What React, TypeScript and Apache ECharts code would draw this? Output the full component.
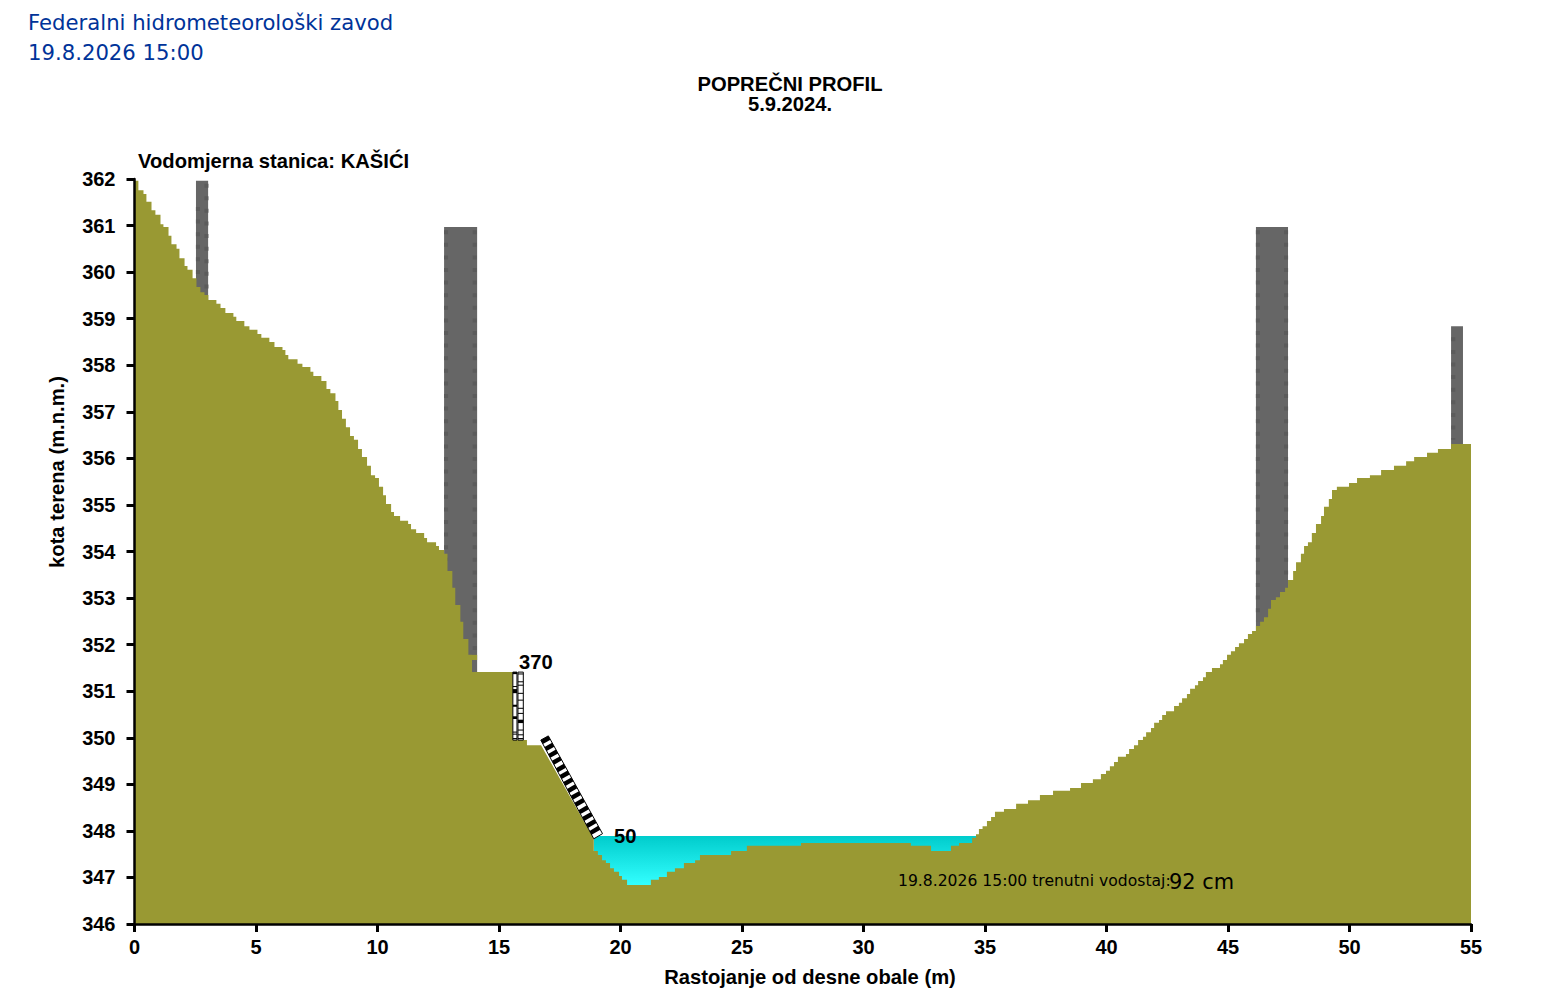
import React, { useEffect, useRef } from "react";
import * as echarts from "echarts";

type Pt = [number, number];

// Terrain: each pair is [distance m, elevation m] and the level holds until the next pair.
const leftBank: Pt[] = [
  [0, 361.96], [0.16, 361.76], [0.37, 361.68], [0.49, 361.51], [0.7, 361.33], [0.86, 361.23], [1.07, 361.03],
  [1.19, 360.97], [1.4, 360.78], [1.52, 360.6], [1.73, 360.5], [1.85, 360.3], [2.06, 360.13], [2.18, 360.05],
  [2.39, 359.87], [2.55, 359.68], [2.71, 359.57], [2.88, 359.51], [3.04, 359.4], [3.37, 359.32], [3.54, 359.23],
  [3.74, 359.12], [4.07, 359.04], [4.19, 358.95], [4.52, 358.84], [4.73, 358.76], [5.06, 358.67], [5.22, 358.59],
  [5.55, 358.5], [5.76, 358.39], [6.09, 358.33], [6.21, 358.22], [6.33, 358.13], [6.71, 358.03], [6.91, 357.96],
  [7.24, 357.86], [7.36, 357.77], [7.69, 357.66], [7.9, 357.49], [8.06, 357.4], [8.27, 357.23], [8.39, 357.04],
  [8.54, 356.85], [8.7, 356.67], [8.87, 356.48], [9.03, 356.4], [9.2, 356.2], [9.36, 356.03], [9.57, 355.84],
  [9.73, 355.64], [9.9, 355.58], [10.06, 355.39], [10.23, 355.21], [10.35, 355.02], [10.56, 354.85], [10.68, 354.76],
  [10.93, 354.66], [11.26, 354.59], [11.38, 354.48], [11.59, 354.4], [11.92, 354.29], [12.04, 354.2], [12.41, 354.12],
  [12.53, 354.03], [12.74, 353.95], [12.88, 353.58], [13.08, 353.22], [13.2, 352.85], [13.41, 352.49], [13.53, 352.12],
  [13.74, 351.78], [13.89, 351.41], [15.57, 349.95], [16.15, 349.84], [16.73, 349.84],
];
const slopeEnd: Pt = [18.9, 347.83];
const riverBed: Pt[] = [
  [18.9, 347.57], [19.07, 347.48], [19.24, 347.37], [19.4, 347.31], [19.57, 347.2], [19.73, 347.12], [19.94, 347.03],
  [20.06, 346.95], [20.27, 346.84], [21.25, 346.95], [21.58, 347.01], [21.91, 347.12], [22.24, 347.2], [22.61, 347.31],
  [23.07, 347.37], [23.27, 347.48], [24.55, 347.57], [25.2, 347.68], [27.43, 347.74], [31.95, 347.68], [32.78, 347.57],
  [33.6, 347.68], [33.93, 347.74], [34.47, 347.85], [34.63, 347.93], [34.75, 348.04], [34.9, 348.1], [35.08, 348.21],
  [35.25, 348.3], [35.41, 348.41],
];
const rightBank: Pt[] = [
  [35.78, 348.47], [36.28, 348.58], [36.77, 348.66], [37.26, 348.77], [37.8, 348.86], [38.5, 348.92], [38.95, 349.03],
  [39.44, 349.11], [39.77, 349.22], [39.98, 349.29], [40.14, 349.39], [40.31, 349.48], [40.47, 349.59], [40.8, 349.65],
  [40.93, 349.76], [41.13, 349.84], [41.3, 349.95], [41.5, 350.02], [41.63, 350.12], [41.83, 350.21], [41.96, 350.32],
  [42.16, 350.38], [42.29, 350.49], [42.45, 350.57], [42.78, 350.68], [42.98, 350.75], [43.11, 350.85], [43.31, 350.94],
  [43.44, 351.05], [43.64, 351.13], [43.77, 351.22], [43.97, 351.3], [44.09, 351.41], [44.34, 351.5], [44.67, 351.58],
  [44.79, 351.67], [44.96, 351.78], [45.12, 351.86], [45.29, 351.95], [45.45, 352.03], [45.66, 352.12], [45.82, 352.23],
  [45.99, 352.29], [46.15, 352.4], [46.32, 352.49], [46.48, 352.59], [46.65, 352.77], [46.77, 352.96], [46.97, 353.02],
  [47.14, 353.13], [47.35, 353.22], [47.47, 353.39], [47.68, 353.58], [47.8, 353.77], [48.0, 353.95], [48.13, 354.12],
  [48.29, 354.2], [48.45, 354.4], [48.62, 354.59], [48.83, 354.76], [48.95, 354.96], [49.15, 355.13], [49.28, 355.32],
  [49.48, 355.39], [49.98, 355.47], [50.31, 355.58], [50.84, 355.64], [51.3, 355.75], [51.83, 355.84], [52.33, 355.94],
  [52.66, 356.03], [53.19, 356.12], [53.64, 356.2], [54.18, 356.31], [55, 356.31],
];

// Water level
const waterLevel = 347.89;
const waterFrom = 18.9;
const waterTo = 34.9;

// Walls: [from m, to m, top, bottom]
const walls: number[][] = [
  [2.53, 3.03, 361.96, 359.3],
  [12.74, 14.1, 360.97, 351.41],
  [46.15, 47.47, 360.97, 352.2],
  [54.18, 54.67, 358.84, 356.2],
];
// Darker flecks along the wall edges: [distance m, top, bottom]
const wallFlecks: number[][] = [
  [2.96, 361.9, 359.6], [2.61, 361.4, 359.9],
  [12.82, 360.9, 353.8], [14.0, 360.9, 351.8],
  [46.23, 360.9, 352.5], [47.39, 360.9, 353.4],
  [54.27, 358.6, 356.4],
];
const wallStrip: number[] = [13.89, 14.1, 351.78, 351.67];

// Staff gauges
const staffTop = 351.41;
const staffBottom = 349.95;
const staffLeftCol: Pt = [15.57, 15.74];
const staffRightCol: Pt = [15.78, 16.0];
const staffLeftMarks: Pt[] = [[0, 0.03], [0.205, 0.22], [0.25, 0.31], [0.48, 0.51], [0.65, 0.69], [0.875, 0.89], [0.905, 0.92], [0.97, 0.985]];
const staffRightMarks: Pt[] = [[0.02, 0.035], [0.135, 0.15], [0.185, 0.2], [0.305, 0.32], [0.405, 0.42], [0.525, 0.54], [0.6, 0.615], [0.7, 0.75], [0.845, 0.86], [0.915, 0.93], [0.97, 0.985]];
const rampCorners: Pt[] = [[16.72, 349.95], [17.03, 350.04], [19.26, 347.94], [18.9, 347.83]];
const rampBands: Pt[] = [
  [0, 0.04], [0.07, 0.11], [0.14, 0.18], [0.21, 0.25], [0.285, 0.325], [0.355, 0.395], [0.425, 0.465],
  [0.495, 0.535], [0.565, 0.605], [0.635, 0.675], [0.71, 0.75], [0.78, 0.82], [0.85, 0.89], [0.92, 0.96],
];

const xTickValues = [0, 5, 10, 15, 20, 25, 30, 35, 40, 45, 50, 55];
const yTickValues = [346, 347, 348, 349, 350, 351, 352, 353, 354, 355, 356, 357, 358, 359, 360, 361, 362];

const terrainColor = "#999933";
const wallColor = "#666666";
const fleckColor = "#5b5b5b";
const SANS = "'Liberation Sans', Arial, sans-serif";
const DEJA = "'DejaVu Sans', Verdana, sans-serif";

function expand(steps: Pt[]): Pt[] {
  const out: Pt[] = [];
  steps.forEach((p, i) => {
    out.push(p);
    if (i < steps.length - 1) out.push([steps[i + 1][0], p[1]]);
  });
  return out;
}

const lerp = (a: Pt, b: Pt, t: number): Pt => [a[0] + (b[0] - a[0]) * t, a[1] + (b[1] - a[1]) * t];

export default function App() {
  const ref = useRef<HTMLDivElement>(null);
  useEffect(() => {
    const chart = echarts.init(ref.current!, undefined, { renderer: "svg" });
    const bed = riverBed.concat([[rightBank[0][0], riverBed[riverBed.length - 1][1]]]);
    const terrain: Pt[] = [
      ...expand(leftBank),
      slopeEnd,
      ...expand(bed),
      ...expand(rightBank),
    ];
    const rect = (api: any, x0: number, x1: number, y0: number, y1: number, style: any) => {
      const a = api.coord([x0, y0]);
      const b = api.coord([x1, y1]);
      return {
        type: "rect",
        shape: { x: a[0], y: a[1], width: b[0] - a[0], height: b[1] - a[1] },
        style,
      };
    };
    const textEl = (text: string, x: number, y: number, font: any, extra: any = {}) => ({
      type: "text",
      x,
      y,
      z: 50,
      silent: true,
      style: { text, textVerticalAlign: "middle", fill: "#000", ...font },
      ...extra,
    });
    const bold = { fontFamily: SANS, fontWeight: "bold", fontSize: 20.2 };
    const axisBase = {
      type: "value",
      z: 20,
      splitLine: { show: false },
      axisLine: { show: true, onZero: false, lineStyle: { color: "#000", width: 2.5 } },
      axisTick: { show: true, length: 8, lineStyle: { color: "#000", width: 3 } },
    };
    chart.setOption({
      animation: false,
      backgroundColor: "#fff",
      grid: { left: 134.5, right: 79, top: 179, bottom: 76, containLabel: false },
      xAxis: {
        ...axisBase,
        min: xTickValues[0],
        max: xTickValues[xTickValues.length - 1],
        interval: 5,
        axisLabel: { show: true, color: "#000", fontFamily: SANS, fontWeight: "bold", fontSize: 20, margin: 13 },
      },
      yAxis: {
        ...axisBase,
        min: yTickValues[0],
        max: yTickValues[yTickValues.length - 1],
        interval: 1,
        axisLabel: { show: true, color: "#000", fontFamily: SANS, fontWeight: "bold", fontSize: 20, margin: 19 },
      },
      series: [
        {
          type: "custom",
          name: "walls",
          z: 1,
          silent: true,
          clip: false,
          data: walls,
          encode: { x: [0, 1], y: [2, 3] },
          renderItem: (_: any, api: any) =>
            rect(api, api.value(0), api.value(1), api.value(2), api.value(3), { fill: wallColor }),
        },
        ...wallFlecks.map((f) => ({
          type: "line",
          z: 2,
          silent: true,
          symbol: "none",
          data: [[f[0], f[1]], [f[0], f[2]]],
          lineStyle: { color: fleckColor, width: 4, type: [4, 8.6] },
        })),
        {
          type: "line",
          name: "voda",
          z: 3,
          silent: true,
          symbol: "none",
          data: [[waterFrom, waterLevel], [waterTo, waterLevel]],
          lineStyle: { width: 0 },
          areaStyle: {
            origin: "start",
            opacity: 1,
            color: new echarts.graphic.LinearGradient(0, 0, 0, 1, [
              { offset: 0, color: "#00cccc" },
              { offset: 0.557, color: "#33ffff" },
              { offset: 1, color: "#33ffff" },
            ]),
          },
        },
        {
          type: "line",
          name: "teren",
          z: 4,
          silent: true,
          symbol: "none",
          data: terrain,
          lineStyle: { width: 0 },
          areaStyle: { origin: "start", opacity: 1, color: terrainColor },
        },
        {
          type: "custom",
          name: "strip",
          z: 5,
          silent: true,
          clip: false,
          data: [wallStrip],
          encode: { x: [0, 1], y: [2, 3] },
          renderItem: (_: any, api: any) =>
            rect(api, api.value(0), api.value(1), api.value(2), api.value(3), { fill: terrainColor }),
        },
        {
          type: "custom",
          name: "letva",
          z: 6,
          silent: true,
          clip: false,
          data: [[staffLeftCol[0], staffTop], [staffRightCol[1], staffBottom]],
          renderItem: (p: any, api: any) => {
            if (p.dataIndex !== 0) return { type: "group", children: [] };
            const column = (col: Pt, marks: Pt[]) => [
              rect(api, col[0], col[1], staffTop, staffBottom, { fill: "#fff", stroke: "#000", lineWidth: 1 }),
              ...marks.map((m) =>
                rect(
                  api,
                  col[0],
                  col[1],
                  staffTop + (staffBottom - staffTop) * m[0],
                  staffTop + (staffBottom - staffTop) * m[1],
                  { fill: "#000" }
                )
              ),
            ];
            return {
              type: "group",
              children: [...column(staffLeftCol, staffLeftMarks), ...column(staffRightCol, staffRightMarks)],
            };
          },
        },
        {
          type: "custom",
          name: "kosa letva",
          z: 6,
          silent: true,
          clip: false,
          data: rampCorners,
          renderItem: (p: any, api: any) => {
            if (p.dataIndex !== 0) return { type: "group", children: [] };
            const [a, b, c, d] = rampCorners;
            const poly = (pts: Pt[], style: any) => ({
              type: "polygon",
              shape: { points: pts.map((q) => api.coord(q)) },
              style,
            });
            return {
              type: "group",
              children: [
                poly([a, b, c, d], { fill: "#fff", stroke: "#000", lineWidth: 1 }),
                ...rampBands.map((t) =>
                  poly([lerp(a, d, t[0]), lerp(b, c, t[0]), lerp(b, c, t[1]), lerp(a, d, t[1])], { fill: "#000" })
                ),
              ],
            };
          },
        },
      ],
      graphic: [
        textEl("Federalni hidrometeorološki zavod", 28, 22, { fontFamily: DEJA, fontSize: 21.2, fill: "#003399" }),
        textEl("19.8.2026 15:00", 28, 52, { fontFamily: DEJA, fontSize: 21.2, fill: "#003399" }),
        textEl("POPREČNI PROFIL", 790, 84, { ...bold, textAlign: "center" }),
        textEl("5.9.2024.", 790, 104, { ...bold, textAlign: "center" }),
        textEl("Vodomjerna stanica: KAŠIĆI", 138, 161, bold),
        textEl("kota terena (m.n.m.)", 57, 472, { ...bold, textAlign: "center" }, { rotation: Math.PI / 2 }),
        textEl("Rastojanje od desne obale (m)", 810, 977, { ...bold, textAlign: "center" }),
        textEl("370", 519, 662, bold),
        textEl("50", 614, 836, bold),
        textEl("19.8.2026 15:00 trenutni vodostaj:", 898, 881, { fontFamily: DEJA, fontSize: 15.6 }),
        textEl("92 cm", 1169, 882, { fontFamily: DEJA, fontSize: 20.9 }),
      ],
    });
    return () => chart.dispose();
  }, []);
  return <div ref={ref} style={{ position: "absolute", left: 0, top: 0, width: 1550, height: 1000 }} />;
}
